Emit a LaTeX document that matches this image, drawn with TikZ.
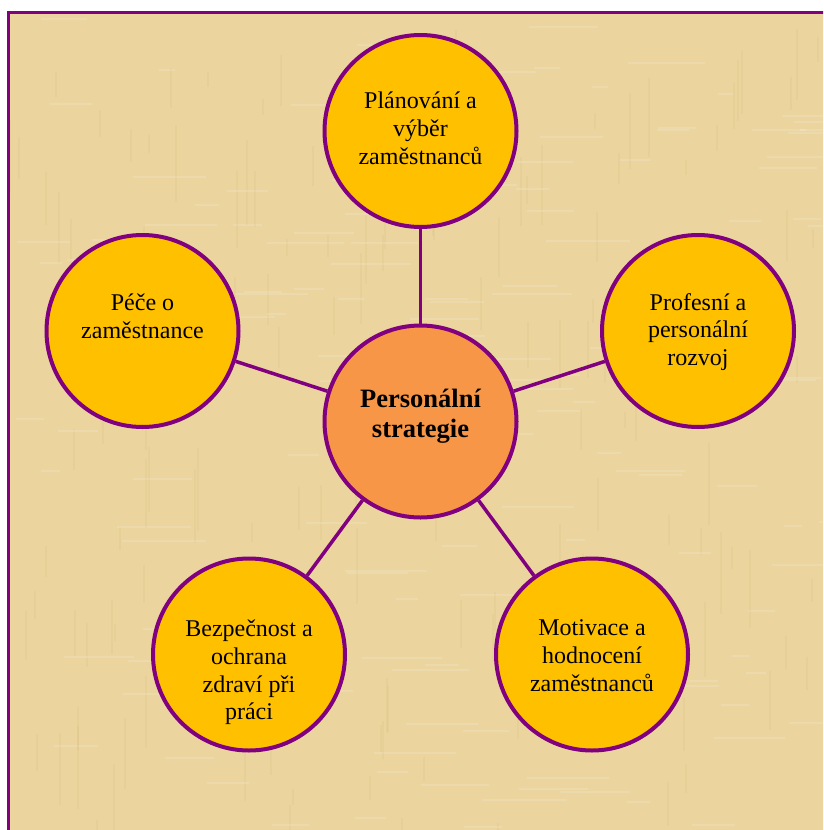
\documentclass[tikz,border=0pt]{standalone}
\usepackage{fontspec}
\setmainfont{Liberation Serif}
\definecolor{frame}{RGB}{128,0,128}
\definecolor{gold}{RGB}{255,192,0}
\definecolor{hubfill}{RGB}{247,150,70}
\definecolor{paper}{RGB}{235,212,158}
\definecolor{fibre}{RGB}{210,180,120}
\begin{document}
\begin{tikzpicture}[x=1pt,y=-1pt,
  bubble/.style={circle,draw=frame,line width=4pt,fill=gold,minimum size=192pt,inner sep=0pt},
  hub/.style={bubble,fill=hubfill},
  words/.style={anchor=north,align=center,inner sep=0pt,font=\fontsize{24}{27.8}\selectfont},
  hubwords/.style={words,font=\fontsize{26.5}{30.4}\selectfont\bfseries},
  link/.style={draw=frame,line width=3.5pt}]
\useasboundingbox (0,0) rectangle (823,830);
\clip (0,0) rectangle (823,830);
\fill [white] (0,0) rectangle (823,830);
\fill [paper] (8.5,12.5) rectangle (840,850);
\pgfmathsetseed{7}
\foreach \i in {1,...,160}{
  \pgfmathsetmacro{\xa}{10+rnd*810}
  \pgfmathsetmacro{\ya}{14+rnd*815}
  \pgfmathsetmacro{\ln}{15+rnd*70}
  \draw [fibre, line width=2pt, opacity=.15] (\xa,\ya) -- ++(0,\ln);
  \pgfmathsetmacro{\xb}{10+rnd*810}
  \pgfmathsetmacro{\yb}{14+rnd*815}
  \draw [white, line width=2pt, opacity=.15] (\xb,\yb) -- ++(\ln,0);
}
\draw [frame, line width=3.5pt] (8.5,850) -- (8.5,12.5) -- (840,12.5);
\node [hub] (hub) at (420.5,421.5) {};
\node [bubble] (plan) at (420.5,131) {};
\node [bubble] (care) at (142.5,331) {};
\node [bubble] (grow) at (698,331) {};
\node [bubble] (safe) at (249,654.5) {};
\node [bubble] (rate) at (592,654.5) {};
\draw [link] (hub) -- (plan);
\draw [link] (hub) -- (care);
\draw [link] (hub) -- (grow);
\draw [link] (hub) -- (safe);
\draw [link] (hub) -- (rate);
\node [hubwords] (hubt) at ([yshift=33pt]hub.center) {Personální\\strategie};
\node [words] (plant) at ([yshift=39pt]plan.center) {Plánování a\\výběr\\zaměstnanců};
\node [words] (caret) at ([yshift=37pt]care.center) {Péče o\\zaměstnance};
\node [words] (growt) at ([yshift=38pt]grow.center) {Profesní a\\personální\\rozvoj};
\node [words] (safet) at ([yshift=35pt]safe.center) {Bezpečnost a\\ochrana\\zdraví při\\práci};
\node [words] (ratet) at ([yshift=35pt]rate.center) {Motivace a\\hodnocení\\zaměstnanců};
\end{tikzpicture}
\end{document}
